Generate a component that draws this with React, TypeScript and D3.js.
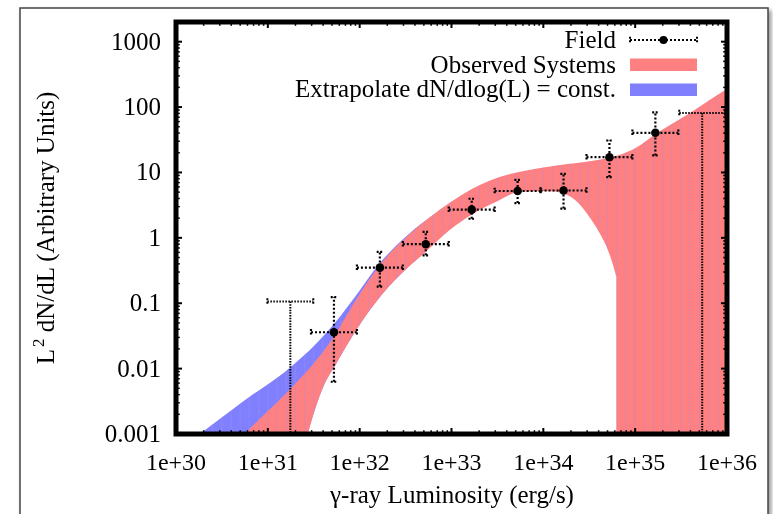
import React from 'react';
import * as d3 from 'd3';

const W = 773;
const H = 514;

// Axis ticks
const xTickValues = [1e30, 1e31, 1e32, 1e33, 1e34, 1e35, 1e36];
const xTickLabels = ['1e+30', '1e+31', '1e+32', '1e+33', '1e+34', '1e+35', '1e+36'];
const yTickValues = [0.001, 0.01, 0.1, 1, 10, 100, 1000];
const yTickLabels = ['0.001', '0.01', '0.1', '1', '10', '100', '1000'];

// Field data (log10 L centres, values with error ranges)
const fieldLogL = [31.72, 32.22, 32.72, 33.22, 33.72, 34.22, 34.72, 35.22];
const fieldVal = [0.036, 0.35, 0.8, 2.7, 5.2, 5.3, 17.1, 40.4];
const fieldLow = [0.0063, 0.18, 0.54, 1.96, 3.4, 2.8, 8.5, 18.2];
const fieldHigh = [0.124, 0.61, 1.23, 3.96, 7.7, 9.5, 30.8, 83];
const binHalfWidthDex = 0.25;
// Field upper limits
const limitLogL = [31.245, 35.73];
const limitVal = [0.106, 81.5];

// Observed Systems band (log10 L, log10 value)
const redUpperLogL = [30.55, 30.744, 31.0, 31.234, 31.56, 31.742, 31.96, 32.24, 32.5, 32.75, 32.984, 33.237, 33.5, 33.746, 34.0, 34.182, 34.508, 34.835, 35.0, 35.235, 35.597, 35.96, 36.05];
const redUpperLogV = [-3.27, -3.0, -2.65, -2.326, -1.816, -1.458, -0.948, -0.38, 0.0, 0.3, 0.54, 0.76, 0.92, 1.01, 1.075, 1.115, 1.17, 1.27, 1.37, 1.6, 1.911, 2.242, 2.32];
const redLowerLogL = [31.38, 31.434, 31.604, 31.748, 31.966, 32.24, 32.512, 32.73, 32.984, 33.237, 33.5, 33.746, 34.073, 34.255, 34.367, 34.508, 34.617, 34.693, 34.748, 34.791];
const redLowerLogV = [-3.3, -3.0, -2.276, -1.913, -1.4, -0.87, -0.47, -0.2, 0.124, 0.369, 0.56, 0.705, 0.711, 0.66, 0.553, 0.308, 0.063, -0.152, -0.366, -0.58];
const redLowerCutoffLogL = 34.795;

// Extrapolated band upper edge
const blueUpperLogL = [30.2, 30.291, 30.726, 31.234, 31.525, 31.742, 31.96, 32.221, 32.548, 32.8];
const blueUpperLogV = [-3.06, -2.965, -2.505, -1.994, -1.62, -1.28, -0.88, -0.385, 0.075, 0.35];

const FONT = '"Liberation Serif", "Times New Roman", serif';
const RED = '#ff8080';
const BLUE = '#8080ff';

export default function App() {
  const x = d3.scaleLog().domain([1e30, 1e36]).range([176, 727]);
  const y = d3.scaleLog().domain([1e-3, 2e3]).range([434, 22]);
  const px = (l: number) => x(Math.pow(10, l));
  const py = (v: number) => y(Math.pow(10, v));
  const [x0, x1] = x.range();
  const [yB, yT] = y.range();

  const line = d3.line<[number, number]>().curve(d3.curveMonotoneX);

  const redUpper: [number, number][] = redUpperLogL.map((l, i) => [px(l), py(redUpperLogV[i])]);
  const redLower: [number, number][] = redLowerLogL.map((l, i) => [px(l), py(redLowerLogV[i])]);
  const blueUpper: [number, number][] = blueUpperLogL.map((l, i) => [px(l), py(blueUpperLogV[i])]);

  const below = yB + 60;
  const lowerRev = line(redLower.slice().reverse()) as string;
  const redPath =
    (line(redUpper) as string) +
    `L${redUpper[redUpper.length - 1][0]},${below}` +
    `L${px(redLowerCutoffLogL)},${below}` +
    `L${px(redLowerCutoffLogL)},${redLower[redLower.length - 1][1]}` +
    'L' + lowerRev.slice(1) + 'Z';

  const blueEnd = blueUpperLogL[blueUpperLogL.length - 1];
  const lowerSub = redLower.filter((_, i) => redLowerLogL[i] <= blueEnd + 1e-9);
  const lowerSubRev = line(lowerSub.slice().reverse()) as string;
  const bluePath = (line(blueUpper) as string) + 'L' + lowerSubRev.slice(1) + `L${blueUpper[0][0]},${below}Z`;

  // faint seams of the filled curve, every 0.1 dex
  const seams = d3.range(1, 60).map((k) => 30 + k * 0.1);

  // minor ticks
  const xMinor: number[] = [];
  for (let e = 30; e < 36; e++) for (let m = 2; m <= 9; m++) xMinor.push(m * Math.pow(10, e));
  const yMinor: number[] = [];
  for (let e = -3; e <= 3; e++) for (let m = 2; m <= 9; m++) { const v = m * Math.pow(10, e); if (v < 2000) yMinor.push(v); }

  const dot = '2 2';
  const cap = 3.2;

  const errorBar = (cx: number, cy: number, xl: number, xh: number, yl: number, yh: number, key: string) => (
    <g key={key} stroke="#000" strokeWidth={2.2} strokeDasharray={dot} fill="none">
      <line x1={xl} y1={cy} x2={xh} y2={cy} />
      <line x1={cx} y1={yl} x2={cx} y2={yh} />
      <line x1={xl} y1={cy - cap} x2={xl} y2={cy + cap} strokeDasharray="2 1.5" />
      <line x1={xh} y1={cy - cap} x2={xh} y2={cy + cap} strokeDasharray="2 1.5" />
      <line x1={cx - cap} y1={yl} x2={cx + cap} y2={yl} strokeDasharray="2 1.5" />
      <line x1={cx - cap} y1={yh} x2={cx + cap} y2={yh} strokeDasharray="2 1.5" />
    </g>
  );

  const legendX0 = 630;
  const legendX1 = 697;

  return (
    <svg width={W} height={H} style={{ position: 'absolute', left: 0, top: 0, background: '#fff' }} fontFamily={FONT}>
      <defs>
        <filter id="shadow" filterUnits="userSpaceOnUse" x={0} y={0} width={W} height={H}>
          <feDropShadow dx={2.5} dy={3} stdDeviation={2.2} floodColor="#000" floodOpacity={0.42} />
        </filter>
        <clipPath id="plotClip">
          <rect x={x0} y={yT} width={x1 - x0} height={yB - yT} />
        </clipPath>
        <clipPath id="bandClip">
          <path d={redPath} />
          <path d={bluePath} />
        </clipPath>
      </defs>
      <rect x={0} y={0} width={W} height={H} fill="#fff" />
      <g filter="url(#shadow)">
        <rect x={20} y={8} width={748} height={540} fill="#fff" stroke="#444" strokeWidth={1.5} />
        <g clipPath="url(#plotClip)">
          <path d={bluePath} fill={BLUE} />
          <path d={redPath} fill={RED} />
          <g clipPath="url(#bandClip)">
            {seams.map((l) => (
              <line key={l} x1={px(l)} x2={px(l)} y1={yT} y2={yB} stroke="#a58cf0" strokeOpacity={0.5} strokeWidth={0.8} />
            ))}
          </g>
          {fieldLogL.map((l, i) =>
            errorBar(px(l), y(fieldVal[i]), px(l - binHalfWidthDex), px(l + binHalfWidthDex), y(fieldLow[i]), y(fieldHigh[i]), 'f' + i)
          )}
          {limitLogL.map((l, i) => (
            <g key={'u' + i} stroke="#000" fill="none">
              <line x1={px(l - binHalfWidthDex)} x2={px(l + binHalfWidthDex)} y1={y(limitVal[i])} y2={y(limitVal[i])} strokeWidth={2} strokeDasharray="1.5 1.5" />
              <line x1={px(l)} x2={px(l)} y1={y(limitVal[i])} y2={yB} strokeWidth={2} strokeDasharray="1.5 1.2" />
              <line x1={px(l - binHalfWidthDex)} x2={px(l - binHalfWidthDex)} y1={y(limitVal[i]) - cap} y2={y(limitVal[i]) + cap} strokeWidth={2} strokeDasharray="2 1.5" />
              <line x1={px(l + binHalfWidthDex)} x2={px(l + binHalfWidthDex)} y1={y(limitVal[i]) - cap} y2={y(limitVal[i]) + cap} strokeWidth={2} strokeDasharray="2 1.5" />
            </g>
          ))}
          {fieldLogL.map((l, i) => (
            <circle key={'p' + i} cx={px(l)} cy={y(fieldVal[i])} r={4.3} fill="#000" />
          ))}
        </g>

        {/* frame ticks */}
        <g stroke="#000">
          {xTickValues.map((v) => (
            <g key={'xt' + v} strokeWidth={2}>
              <line x1={x(v)} x2={x(v)} y1={yB} y2={yB - 6} />
              <line x1={x(v)} x2={x(v)} y1={yT} y2={yT + 6} />
            </g>
          ))}
          {xMinor.map((v) => (
            <g key={'xm' + v} strokeWidth={1.5}>
              <line x1={x(v)} x2={x(v)} y1={yB} y2={yB - 3.8} />
              <line x1={x(v)} x2={x(v)} y1={yT} y2={yT + 3.8} />
            </g>
          ))}
          {yTickValues.map((v) => (
            <g key={'yt' + v} strokeWidth={2}>
              <line x1={x0} x2={x0 + 6} y1={y(v)} y2={y(v)} />
              <line x1={x1} x2={x1 - 6} y1={y(v)} y2={y(v)} />
            </g>
          ))}
          {yMinor.map((v) => (
            <g key={'ym' + v} strokeWidth={1.5}>
              <line x1={x0} x2={x0 + 3.8} y1={y(v)} y2={y(v)} />
              <line x1={x1} x2={x1 - 3.8} y1={y(v)} y2={y(v)} />
            </g>
          ))}
        </g>
        <rect x={x0} y={yT} width={x1 - x0} height={yB - yT} fill="none" stroke="#000" strokeWidth={5} />

        {/* tick labels */}
        <g fill="#000">
          {xTickValues.map((v, i) => (
            <text key={'xl' + v} x={x(v)} y={470} fontSize={24} textAnchor="middle">{xTickLabels[i]}</text>
          ))}
          {yTickValues.map((v, i) => (
            <text key={'yl' + v} x={161} y={y(v) + 8} fontSize={25} textAnchor="end">{yTickLabels[i]}</text>
          ))}
        </g>

        {/* axis labels */}
        <text x={452} y={503} fontSize={25} textAnchor="middle">γ-ray Luminosity (erg/s)</text>
        <text transform="translate(54,228) rotate(-90)" fontSize={25} textAnchor="middle">
          L<tspan fontSize={17} dy={-10} dx={2}>2</tspan><tspan dy={10}> dN/dL (Arbitrary Units)</tspan>
        </text>

        {/* legend */}
        <g fontSize={25}>
          <text x={616} y={48} textAnchor="end">Field</text>
          <text x={616} y={73} textAnchor="end">Observed Systems</text>
          <text x={616} y={97} textAnchor="end">Extrapolate dN/dlog(L) = const.</text>
          <g stroke="#000" strokeWidth={2} fill="none">
            <line x1={legendX0} x2={legendX1} y1={40} y2={40} strokeDasharray={dot} />
            <line x1={legendX0} x2={legendX0} y1={40 - cap} y2={40 + cap} strokeDasharray="2 1.5" />
            <line x1={legendX1} x2={legendX1} y1={40 - cap} y2={40 + cap} strokeDasharray="2 1.5" />
          </g>
          <circle cx={(legendX0 + legendX1) / 2} cy={40} r={4} fill="#000" />
          <rect x={legendX0} y={58.5} width={legendX1 - legendX0} height={12.5} fill={RED} />
          <rect x={legendX0} y={83.5} width={legendX1 - legendX0} height={12.5} fill={BLUE} />
        </g>
      </g>
    </svg>
  );
}
